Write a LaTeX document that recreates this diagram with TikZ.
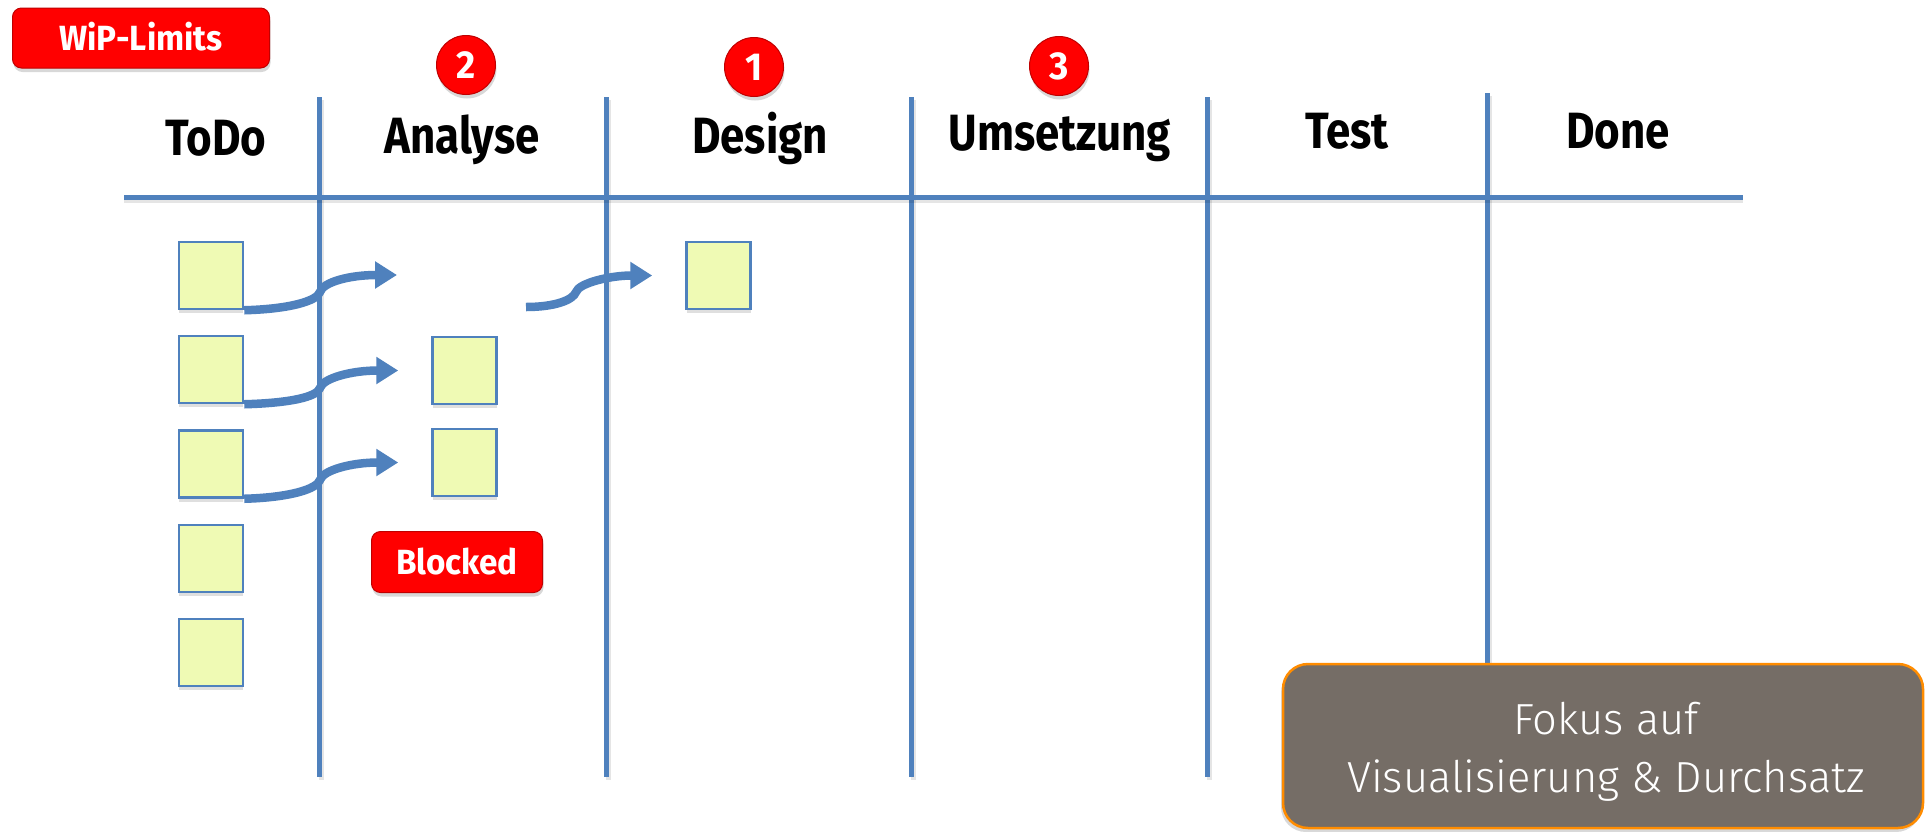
\documentclass[tikz,border=0pt]{standalone}
\usepackage{fontspec}
\setmainfont{Fira Sans}
\newfontfamily\hdrfont{Fira Sans}[FakeStretch=0.86]
\newfontfamily\lblfont{Fira Sans}[FakeStretch=0.95]
\newfontfamily\lightfont{Fira Sans Light}
\usetikzlibrary{shadows,arrows.meta,calc}
\definecolor{lineblue}{HTML}{4F81BD}
\definecolor{cardfill}{HTML}{EFFAB4}
\definecolor{redfill}{HTML}{FF0000}
\definecolor{redborder}{HTML}{C00000}
\definecolor{fokusfill}{HTML}{756D66}
\definecolor{fokusborder}{HTML}{FF8C00}
\begin{document}
\begin{tikzpicture}[x=1pt,y=-1pt,
  board/.style={draw=lineblue,line width=5pt},
  boardshadow/.style={draw=black,opacity=0.10,line width=5pt},
  card/.style={draw=lineblue,line width=2.5pt,fill=cardfill,minimum width=64pt,minimum height=67pt,inner sep=0pt,
    drop shadow={shadow xshift=0pt,shadow yshift=-4pt,opacity=0.25}},
  hdr/.style={font=\hdrfont\bfseries\fontsize{51pt}{51pt}\selectfont,anchor=base,inner sep=0pt},
  numcirc/.style={circle,fill=redfill,draw=redborder,line width=1pt,minimum size=59pt,inner sep=0pt,text=white,
    font=\lblfont\bfseries\fontsize{39pt}{39pt}\selectfont,
    drop shadow={shadow xshift=1pt,shadow yshift=-4pt,opacity=0.3}},
  redlabel/.style={rounded corners=9pt,fill=redfill,draw=redborder,line width=1pt,text=white,inner sep=0pt,
    font=\lblfont\bfseries\fontsize{35pt}{35pt}\selectfont,text height=25pt,text depth=0pt,
    drop shadow={shadow xshift=1pt,shadow yshift=-4pt,opacity=0.3}},
  arrline/.style={draw=lineblue,line width=8.5pt},
  arrtip/.style={-{Triangle[length=22pt,width=26pt]}},
  fokusbox/.style={rounded corners=25pt,fill=fokusfill,draw=fokusborder,line width=2.5pt,
    minimum width=640pt,minimum height=164pt,inner sep=0pt,
    drop shadow={shadow xshift=-2pt,shadow yshift=-4pt,opacity=0.3}},
  fokustxt/.style={text=white,align=center,inner sep=0pt,
    font=\lightfont\fontsize{43.5pt}{58pt}\selectfont}
]
\useasboundingbox (0,0) rectangle (1926,831);
\fill[white] (0,0) rectangle (1926,831);

% board lines (shadow + line)
\foreach \xx in {319,606,911,1207}{
  \draw[boardshadow] (\xx+2,100) -- (\xx+2,780);
  \draw[board] (\xx,97) -- (\xx,777);
}
\draw[boardshadow] (1489,96) -- (1489,700);
\draw[board] (1487,93) -- (1487,700);
\draw[boardshadow] (124,200) -- (1743,200);
\draw[board] (124,197) -- (1743,197);

% headers
\node[hdr] (hTodo) at (216,155) {ToDo};
\node[hdr] (hAnalyse) at (462,153) {Analyse};
\node[hdr] (hDesign) at (760,153) {Design};
\node[hdr] (hUmsetzung) at (1060,150) {Umsetzung};
\node[hdr] (hTest) at (1347,148) {Test};
\node[hdr] (hDone) at (1618,148) {Done};

% WiP limit circles
\node[numcirc] (c2) at (466,65) {2};
\node[numcirc] (c1) at (754,67) {1};
\node[numcirc] (c3) at (1059,66) {3};

% labels
\node[redlabel,minimum width=257pt,minimum height=60pt] (wip) at (141,38) {WiP-Limits};
\node[redlabel,minimum width=171pt,minimum height=61pt] (blocked) at (457,562) {Blocked};

% cards
\node[card] (todo1) at (211,275.5) {};
\node[card] (todo2) at (211,369.5) {};
\node[card] (todo3) at (211,464) {};
\node[card] (todo4) at (211,558.5) {};
\node[card] (todo5) at (211,652.5) {};
\node[card] (an1) at (464.5,370.5) {};
\node[card] (an2) at (464.5,462.5) {};
\node[card] (des1) at (718.5,275.5) {};

% arrow end points
\coordinate (a1end) at (397,275);
\coordinate (e2) at ($(an1.west)+(-33,0)$);
\coordinate (e3) at ($(an2.west)+(-33,0)$);
\coordinate (a4start) at (526,307);
\coordinate (e4) at ($(des1.west)+(-33,0)$);

% arrows
\draw[arrline,arrtip] (todo1.south east) .. controls (290,309) and (317,301) .. (320,292)
  .. controls (323,282) and (350,275) .. (a1end);
\draw[arrline,arrtip] (todo2.south east) .. controls (290,403) and (317,397) .. (320,388)
  .. controls (323,378) and (352,370.5) .. (e2);
\draw[arrline,arrtip] (todo3.south east) .. controls (290,497.5) and (317,489) .. (320,480)
  .. controls (323,470) and (352,462.5) .. (e3);
\draw[arrline,arrtip] (a4start) .. controls (555,307) and (573,300) .. (576,292)
  .. controls (579,283) and (610,275.5) .. (e4);

% focus box
\node[fokusbox] (fokus) at (1603,746) {};
\node[fokustxt] (fokuslbl) at (1606,752) {Fokus auf\\Visualisierung \& Durchsatz};
\end{tikzpicture}
\end{document}
